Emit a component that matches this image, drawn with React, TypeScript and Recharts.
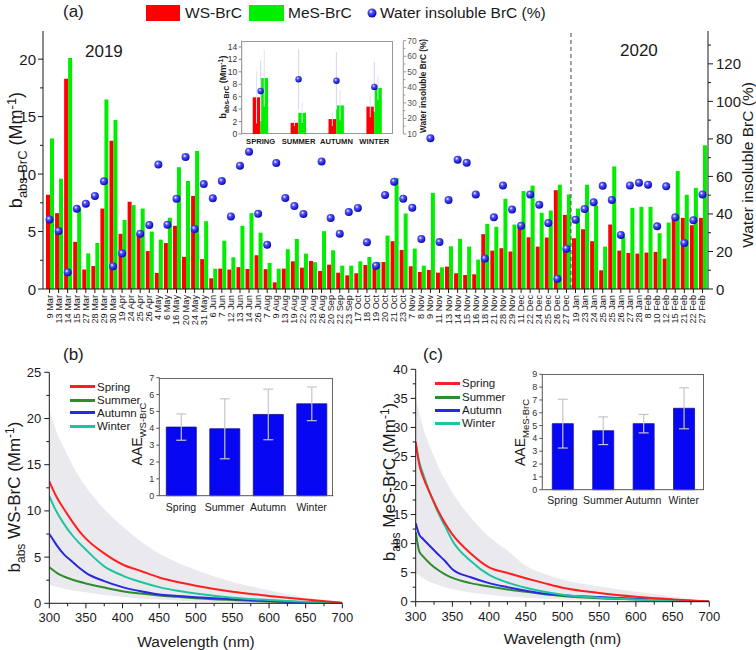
import React from 'react';
import { Area, Bar, ComposedChart, ErrorBar, Legend, Line, ReferenceLine, Scatter, XAxis, YAxis } from 'recharts';

const FONT = '"Liberation Sans", Arial, Helvetica, sans-serif';
const INK = '#1a1a1a';

// ---------- panel (a): daily samples ----------
const dates = ['9 Mar', '13 Mar', '14 Mar', '15 Mar', '27 Mar', '28 Mar', '29 Mar', '30 Mar', '19 Apr', '24 Apr', '25 Apr', '26 Apr',
  '4 May', '6 May', '16 May', '20 May', '24 May', '31 May', '6 Jun', '7 Jun', '12 Jun', '13 Jun', '14 Jun', '26 Jun',
  '7 Aug', '9 Aug', '13 Aug', '19 Aug', '22 Aug', '23 Aug', '26 Aug', '20 Sep', '22 Sep', '23 Sep',
  '17 Oct', '18 Oct', '19 Oct', '20 Oct', '21 Oct', '23 Oct', '7 Nov', '8 Nov', '9 Nov', '11 Nov', '13 Nov', '14 Nov',
  '15 Nov', '16 Nov', '18 Nov', '21 Nov', '28 Nov', '29 Nov', '11 Dec', '22 Dec', '24 Dec', '25 Dec', '26 Dec', '27 Dec',
  '19 Jan', '23 Jan', '24 Jan', '25 Jan', '25 Jan', '26 Jan', '27 Jan', '28 Jan', '8 Feb', '10 Feb', '12 Feb', '15 Feb',
  '21 Feb', '22 Feb', '27 Feb'];

const wsBrc = [8.2, 6.6, 18.3, 4.1, 1.7, 2.0, 7.0, 12.9, 4.8, 7.6, 4.9, 3.3, 1.4, 4.0, 5.5, 2.8, 8.1, 2.6,
  0.93, 1.77, 1.69, 1.9, 1.74, 2.94, 1.72, 0.58, 1.77, 2.41, 1.86, 2.44, 1.57, 2.12, 1.42, 1.19,
  1.37, 2.09, 2.2, 2.35, 4.16, 3.4, 1.98, 1.48, 1.66, 1.42, 1.95, 1.37, 1.22, 1.28, 4.77, 3.34, 3.55, 3.26,
  5.47, 4.5, 3.69, 4.48, 8.6, 6.45, 4.42, 5.2, 4.16, 1.63, 5.61, 3.34, 3.14, 3.08, 3.17, 3.23, 2.65, 6.13,
  6.19, 5.55, 6.19];

const mesBrc = [13.1, 9.6, 20.1, 7.0, 3.1, 4.0, 16.5, 14.7, 6.0, 7.3, 7.0, 5.0, 4.3, 6.2, 10.6, 9.4, 12.0, 5.9,
  1.77, 4.2, 2.76, 5.5, 6.6, 4.9, 2.27, 1.77, 3.46, 4.36, 3.08, 2.33, 5.03, 3.37, 2.03, 2.03,
  2.41, 2.79, 2.35, 4.65, 9.65, 6.57, 3.52, 2.03, 8.37, 1.89, 3.72, 4.36, 3.69, 2.56, 5.67, 5.41, 7.85, 5.61,
  8.52, 9.0, 6.63, 6.83, 9.07, 8.23, 7.0, 9.07, 7.27, 3.69, 10.67, 4.56, 7.06, 7.15, 7.15, 4.85, 5.78, 10.26,
  8.2, 8.8, 12.5];

const insolublePct = [37.1, 30.9, 8.9, 42.8, 45.5, 49.6, 57.4, 12.1, 19.0, null, 29.5, 34.1, 66.3, 34.3, 48.1, 70.3, 32.0, 55.9,
  48.3, 57.5, 38.7, 65.7, 73.2, 40.1, 23.6, 67.1, 48.5, 44.2, 40.0, null, 68.0, 37.8, 29.5, 41.0,
  43.2, 24.9, 12.4, 50.1, 57.2, 48.1, 43.3, 26.6, 80.3, 25.0, 47.4, 68.9, 67.3, 50.4, 16.2, 38.2, 55.2, 42.4,
  33.7, 50.4, 44.9, 35.2, 5.5, 21.5, 36.9, 42.6, 46.2, 55.0, 47.4, 28.8, 55.2, 56.6, 55.6, 33.4, 54.7, 38.2,
  24.5, 36.6, 50.4];

// inset of (a): seasonal means
const seasonCaps = ['SPRING', 'SUMMER', 'AUTUMN', 'WINTER'];
const seasonWs = [5.9, 1.8, 2.4, 4.4];
const seasonWsErr = [4.2, 0.5, 1.1, 1.7];
const seasonMes = [9.0, 3.4, 4.6, 7.4];
const seasonMesErr = [4.6, 1.6, 2.4, 1.9];
const seasonPct = [37.7, 45.2, 44.2, 40.3];
const seasonPctErr = [19.5, 19.6, 18.4, 16.0];

// ---------- panels (b), (c): spectra ----------
const wavelengths = [300, 305, 310, 320, 330, 340, 350, 375, 400, 425, 450, 475, 500, 550, 600, 650, 700];

const wsSpring = [13.2, 12.3, 11.5, 10.2, 9.0, 7.9, 7.0, 5.4, 4.2, 3.5, 2.8, 2.3, 1.9, 1.25, 0.8, 0.4, 0.05];
const wsSummer = [3.9, 3.6, 3.3, 2.9, 2.6, 2.35, 2.15, 1.7, 1.3, 1.05, 0.85, 0.7, 0.55, 0.35, 0.2, 0.1, 0.02];
const wsAutumn = [7.5, 6.9, 6.3, 5.3, 4.6, 3.9, 3.3, 2.4, 1.75, 1.3, 0.95, 0.8, 0.65, 0.45, 0.25, 0.12, 0.02];
const wsWinter = [11.6, 10.7, 9.9, 8.6, 7.5, 6.6, 5.8, 4.0, 3.0, 2.3, 1.75, 1.35, 1.05, 0.6, 0.35, 0.15, 0.02];
const wsBandHi = [21, 19.7, 18.5, 16.8, 15.2, 13.8, 12.6, 10.2, 8.3, 6.7, 5.4, 4.4, 3.6, 2.3, 1.4, 0.6, 0.05];
const wsBandLo = [2.0, 1.9, 1.8, 1.6, 1.4, 1.3, 1.2, 0.9, 0.7, 0.5, 0.4, 0.3, 0.2, 0.1, 0.05, 0.02, 0];

const mesSpring = [27.5, 23.5, 21.5, 18.5, 15.8, 13.5, 11.6, 8.3, 5.9, 4.95, 4.05, 3.2, 2.4, 1.5, 0.85, 0.4, 0.05];
const mesSummer = [12.0, 8.6, 7.8, 6.5, 5.5, 4.7, 4.1, 3.2, 2.6, 2.1, 1.7, 1.3, 1.0, 0.6, 0.4, 0.2, 0.02];
const mesAutumn = [13.5, 11.5, 10.8, 9.5, 8.2, 7.0, 5.6, 4.2, 3.2, 2.5, 1.9, 1.4, 1.1, 0.8, 0.5, 0.25, 0.02];
const mesWinter = [27.0, 24.0, 22.0, 18.5, 15.5, 13.0, 10.5, 7.0, 4.6, 3.3, 2.4, 1.7, 1.2, 0.7, 0.4, 0.2, 0.02];
const mesBandHi = [35, 32.5, 30, 26.5, 23.5, 21, 18.8, 14.5, 11.2, 8.8, 6.2, 4.8, 3.8, 2.6, 1.7, 0.9, 0.05];
const mesBandLo = [5.0, 4.5, 4.0, 3.4, 2.9, 2.5, 2.2, 1.6, 1.2, 0.9, 0.7, 0.5, 0.4, 0.2, 0.1, 0.05, 0];

const seasons = ['Spring', 'Summer', 'Autumn', 'Winter'];
const aaeWs = [4.07, 3.97, 4.82, 5.45];
const aaeWsErr = [0.78, 1.78, 1.5, 1.0];
const aaeMes = [5.15, 4.6, 5.15, 6.35];
const aaeMesErr = [1.9, 1.08, 0.72, 1.6];

const seasonColors = ['#ff1f1f', '#2e8b2e', '#2828e0', '#1ec3a0'];

// ticks
const leftTicksA = [0, 2.5, 5, 7.5, 10, 12.5, 15, 17.5, 20];
const rightTicksA = [0, 10, 20, 30, 40, 50, 60, 70, 80, 90, 100, 110, 120, 130];
const insetLeftTicks = [0, 2, 4, 6, 8, 10, 12, 14];
const insetRightTicks = [10, 15, 20, 25, 30, 35, 40, 45, 50, 55, 60, 65, 70];
const wlTicks = [300, 325, 350, 375, 400, 425, 450, 475, 500, 525, 550, 575, 600, 625, 650, 675, 700];
const ticksB = [0, 2.5, 5, 7.5, 10, 12.5, 15, 17.5, 20, 22.5, 25];
const ticksC = [0, 2.5, 5, 7.5, 10, 12.5, 15, 17.5, 20, 22.5, 25, 27.5, 30, 32.5, 35, 37.5, 40];

const rowsA = dates.map((d, i) => ({ idx: i, ws: wsBrc[i], mes: mesBrc[i], ins: insolublePct[i] }));
const rowsInset = seasonCaps.map((s, i) => ({
  season: s, ws: seasonWs[i], wsErr: seasonWsErr[i], mes: seasonMes[i], mesErr: seasonMesErr[i],
  pct: seasonPct[i], pctErr: seasonPctErr[i],
}));
const rowsB = wavelengths.map((w, i) => ({
  wl: w, spring: wsSpring[i], summer: wsSummer[i], autumn: wsAutumn[i], winter: wsWinter[i], band: [wsBandLo[i], wsBandHi[i]],
}));
const rowsC = wavelengths.map((w, i) => ({
  wl: w, spring: mesSpring[i], summer: mesSummer[i], autumn: mesAutumn[i], winter: mesWinter[i], band: [mesBandLo[i], mesBandHi[i]],
}));
const rowsAaeWs = seasons.map((s, i) => ({ season: s, aae: aaeWs[i], err: aaeWsErr[i] }));
const rowsAaeMes = seasons.map((s, i) => ({ season: s, aae: aaeMes[i], err: aaeMesErr[i] }));

const isMult = (v: number, m: number) => Math.abs(v / m - Math.round(v / m)) < 1e-6;

// generic tick: draws own tick line + label (axis given tickSize 0, tickMargin 0)
const makeTick = (o: {
  side: 'left' | 'right' | 'bottom' | 'top';
  every: number; len: number; minorLen: number; font: number; gap: number;
  color?: string; textColor?: string; weight?: number; noLabel?: boolean;
}) => (p: any) => {
  const { x, y, payload } = p;
  const v = payload.value;
  const major = isMult(v, o.every);
  const L = major ? o.len : o.minorLen;
  const c = o.color ?? INK;
  const tStyle = { fontSize: o.font, fontFamily: FONT, fill: o.textColor ?? INK, fontWeight: o.weight ?? 400 };
  const show = major && !o.noLabel;
  if (o.side === 'left') {
    return (
      <g>
        <line x1={x} x2={x - L} y1={y} y2={y} stroke={c} />
        {show && <text x={x - o.len - o.gap} y={y} textAnchor="end" dominantBaseline="central" style={tStyle}>{v}</text>}
      </g>
    );
  }
  if (o.side === 'right') {
    return (
      <g>
        <line x1={x} x2={x + L} y1={y} y2={y} stroke={c} />
        {show && <text x={x + o.len + o.gap} y={y} textAnchor="start" dominantBaseline="central" style={tStyle}>{v}</text>}
      </g>
    );
  }
  if (o.side === 'top') {
    return <line x1={x} x2={x} y1={y} y2={y + L} stroke={c} />;
  }
  return (
    <g>
      <line x1={x} x2={x} y1={y} y2={y + L} stroke={c} />
      {show && <text x={x} y={y + o.gap} textAnchor="middle" dominantBaseline="central" style={tStyle}>{v}</text>}
    </g>
  );
};

const DateTick = (p: any) => {
  const { x, y, payload } = p;
  const ty = y + 6;
  return (
    <g>
      <line x1={x} x2={x} y1={y} y2={y + 4} stroke={INK} />
      <text x={x} y={ty} transform={`rotate(-90 ${x} ${ty})`} textAnchor="end" dominantBaseline="central"
        style={{ fontSize: 9.2, fontFamily: FONT, fill: INK }}>{dates[payload.value]}</text>
    </g>
  );
};

const catLabel = (font: number, gap: number, weight = 400) => (p: any) => (
  <text x={p.x} y={p.y + gap} textAnchor="middle" dominantBaseline="central"
    style={{ fontSize: font, fontFamily: FONT, fill: INK, fontWeight: weight }}>{p.payload.value}</text>
);

// rotated title with optional sub/superscript parts
const VTitle = (p: any) => {
  const { tx, ty, size, sub, parts, weight } = p;
  return (
    <text x={tx} y={ty} transform={`rotate(-90 ${tx} ${ty})`} textAnchor="middle"
      style={{ fontSize: size, fontFamily: FONT, fill: INK, fontWeight: weight ?? 400 }}>
      {parts.map((t: any, i: number) => {
        const prev = i > 0 ? parts[i - 1].k : 'n';
        const base = (k: string) => (k === 'sub' ? size * 0.28 : k === 'sup' ? -size * 0.36 : 0);
        const dy = base(t.k) - base(prev);
        return (
          <tspan key={i} dy={dy} style={t.k === 'n' ? undefined : { fontSize: sub }}>{t.s}</tspan>
        );
      })}
    </text>
  );
};

const HTitle = (p: any) => (
  <text x={p.tx} y={p.ty} textAnchor="middle" dominantBaseline="central"
    style={{ fontSize: p.size, fontFamily: FONT, fill: INK }}>{p.text}</text>
);

const Sphere = (p: any) => {
  const { cx, cy } = p;
  if (!Number.isFinite(cx) || !Number.isFinite(cy)) return <g />;
  return <circle cx={cx} cy={cy} r={4} fill="url(#ballGrad)" />;
};
const SmallSphere = (p: any) => {
  const { cx, cy } = p;
  if (!Number.isFinite(cx) || !Number.isFinite(cy)) return <g />;
  return <circle cx={cx} cy={cy} r={3.2} fill="url(#ballGrad)" />;
};

const abs = (a: string, b: string) => [
  { k: 'n', s: 'b' }, { k: 'sub', s: a }, { k: 'n', s: b }, { k: 'sup', s: '-1' }, { k: 'n', s: ')' },
];

const LegendA = () => (
  <div style={{ position: 'relative', width: 756, height: 28, fontFamily: FONT, fontSize: 15.5, color: INK }}>
    <div style={{ position: 'absolute', left: 146, top: 5, width: 34, height: 15.5, background: '#ff0000' }} />
    <div style={{ position: 'absolute', left: 185, top: 4, lineHeight: '18px' }}>WS-BrC</div>
    <div style={{ position: 'absolute', left: 249, top: 5, width: 35, height: 15.5, background: '#00ee00' }} />
    <div style={{ position: 'absolute', left: 288, top: 4, lineHeight: '18px' }}>MeS-BrC</div>
    <svg style={{ position: 'absolute', left: 366, top: 7 }} width={12} height={12}>
      <circle cx={6} cy={6} r={4.5} fill="url(#ballGrad)" />
    </svg>
    <div style={{ position: 'absolute', left: 380, top: 4, lineHeight: '18px', whiteSpace: 'nowrap' }}>Water insoluble BrC (%)</div>
  </div>
);

const SeasonLegend = ({ rowsY, lineX, textX }: { rowsY: number[]; lineX: number; textX: number }) => (
  <div style={{ position: 'relative', width: 378, height: 310, fontFamily: FONT, fontSize: 11.5, color: INK }}>
    {seasons.map((s, i) => (
      <React.Fragment key={s}>
        <div style={{ position: 'absolute', left: lineX, top: rowsY[i] - 1.5, width: 25, height: 3, background: seasonColors[i] }} />
        <div style={{ position: 'absolute', left: textX, top: rowsY[i] - 7, lineHeight: '14px' }}>{s}</div>
      </React.Fragment>
    ))}
  </div>
);

const PanelA = () => (
  <ComposedChart width={756} height={345} data={rowsA} margin={{ top: 31, right: 0, left: 0, bottom: 0 }} barGap={0}>
    <XAxis xAxisId="b" dataKey="idx" type="category" interval={0} height={56} tickSize={0} tickMargin={0}
      tickLine={false} tick={DateTick} axisLine={{ stroke: INK }} padding={{ left: 2, right: 1 }} />
    <XAxis xAxisId="t" dataKey="idx" type="category" orientation="top" interval={0} height={0} tickSize={0} tickMargin={0}
      tickLine={false} tick={makeTick({ side: 'top', every: 1, len: 5, minorLen: 5, font: 10, gap: 0, noLabel: true })}
      axisLine={{ stroke: INK }} padding={{ left: 2, right: 1 }} />
    <YAxis yAxisId="l" width={43} domain={[0, 22.45]} ticks={leftTicksA} interval={0} tickSize={0} tickMargin={0}
      tickLine={false} axisLine={{ stroke: INK }}
      tick={makeTick({ side: 'left', every: 5, len: 5, minorLen: 3, font: 15, gap: 2 })}
      label={<VTitle tx={22} ty={150} size={18} sub={13} parts={abs('abs-BrC', ' (Mm')} />} />
    <YAxis yAxisId="r" orientation="right" width={48} domain={[0, 137.5]} ticks={rightTicksA} interval={0} tickSize={0}
      tickMargin={0} tickLine={false} axisLine={{ stroke: INK }}
      tick={makeTick({ side: 'right', every: 20, len: 5, minorLen: 3, font: 15, gap: 3 })}
      label={<VTitle tx={753} ty={165} size={15.5} sub={12} parts={[{ k: 'n', s: 'Water insoluble BrC (%)' }]} />} />
    <Legend layout="vertical" align="center" verticalAlign="middle" content={LegendA}
      wrapperStyle={{ left: 0, top: 0, width: 756, height: 28 }} />
    <ReferenceLine xAxisId="b" yAxisId="l" x={58} position="start" stroke="#444" strokeDasharray="4 3" />
    <Bar xAxisId="b" yAxisId="l" dataKey="ws" fill="#ff0000" barSize={4} isAnimationActive={false} />
    <Bar xAxisId="b" yAxisId="l" dataKey="mes" fill="#00ee00" barSize={4} isAnimationActive={false} />
    <Scatter xAxisId="b" yAxisId="r" dataKey="ins" shape={Sphere} isAnimationActive={false} />
  </ComposedChart>
);

const InsetA = () => (
  <ComposedChart width={240} height={125} data={rowsInset} margin={{ top: 10.7, right: 0, left: 0, bottom: 0 }} barGap={0}>
    <XAxis dataKey="season" type="category" interval={0} height={21} tickSize={0} tickMargin={0} tickLine={false}
      axisLine={false} tick={catLabel(7.6, 7, 700)} padding={{ left: 0, right: 10 }} />
    <YAxis yAxisId="l" width={41.7} domain={[0, 15]} ticks={insetLeftTicks} interval={0} tickSize={0} tickMargin={0}
      tickLine={false} axisLine={{ stroke: '#888' }}
      tick={makeTick({ side: 'left', every: 2, len: 3, minorLen: 2, font: 8.5, gap: 1.5, color: '#888', textColor: '#333' })}
      label={<VTitle tx={26} ty={57} size={9} sub={7} weight={700} parts={abs('abs-BrC', ' (Mm')} />} />
    <YAxis yAxisId="r" orientation="right" width={36.7} domain={[10, 70]} ticks={insetRightTicks} interval={0} tickSize={0}
      tickMargin={0} tickLine={false} axisLine={{ stroke: '#999' }}
      tick={makeTick({ side: 'right', every: 10, len: 3, minorLen: 2, font: 8.5, gap: 1, color: '#999', textColor: '#555' })}
      label={<VTitle tx={225.5} ty={56} size={8.3} sub={7} weight={700} parts={[{ k: 'n', s: 'Water insoluble BrC (%)' }]} />} />
    <Bar yAxisId="l" dataKey="ws" fill="#ff0000" barSize={7.7} isAnimationActive={false}>
      <ErrorBar dataKey="wsErr" direction="y" width={0} stroke="#e2e3f0" strokeWidth={1} />
    </Bar>
    <Bar yAxisId="l" dataKey="mes" fill="#00ee00" barSize={7.7} isAnimationActive={false}>
      <ErrorBar dataKey="mesErr" direction="y" width={0} stroke="#e2e3f0" strokeWidth={1} />
    </Bar>
    <Scatter yAxisId="r" dataKey="pct" shape={SmallSphere} isAnimationActive={false}>
      <ErrorBar dataKey="pctErr" direction="y" width={0} stroke="#d9dbee" strokeWidth={1.2} />
    </Scatter>
  </ComposedChart>
);

const SpectrumPanel = (p: {
  rows: any[]; yMax: number; yTicks: number[]; yWidth: number; margin: any; xHeight: number;
  title: any[]; titleX: number; titleY: number; xTitleX: number; xTitleY: number; labelGap: number;
  legendY: number[]; legendLineX: number; legendTextX: number;
}) => (
  <ComposedChart width={378} height={310} data={p.rows} margin={p.margin}>
    <XAxis xAxisId="x" dataKey="wl" type="number" domain={[300, 700]} ticks={wlTicks} interval={0} height={p.xHeight}
      tickSize={0} tickMargin={0} tickLine={false} axisLine={{ stroke: INK }} allowDataOverflow
      tick={makeTick({ side: 'bottom', every: 50, len: 5, minorLen: 3, font: 13, gap: p.labelGap })}
      label={<HTitle tx={p.xTitleX} ty={p.xTitleY} size={15.5} text="Wavelength (nm)" />} />
    <XAxis xAxisId="xt" dataKey="wl" type="number" orientation="top" domain={[300, 700]} height={0} tick={false}
      tickLine={false} axisLine={{ stroke: INK }} allowDataOverflow />
    <YAxis yAxisId="y" width={p.yWidth} domain={[0, p.yMax]} ticks={p.yTicks} interval={0} tickSize={0} tickMargin={0}
      tickLine={false} axisLine={{ stroke: INK }} allowDataOverflow
      tick={makeTick({ side: 'left', every: 5, len: 5, minorLen: 3, font: 13, gap: 3 })}
      label={<VTitle tx={p.titleX} ty={p.titleY} size={17} sub={12} parts={p.title} />} />
    <YAxis yAxisId="yr" orientation="right" width={0} domain={[0, p.yMax]} tick={false} tickLine={false}
      axisLine={{ stroke: INK }} />
    <Legend layout="vertical" align="center" verticalAlign="middle"
      content={() => <SeasonLegend rowsY={p.legendY} lineX={p.legendLineX} textX={p.legendTextX} />}
      wrapperStyle={{ left: 0, top: 0, width: 378, height: 310, pointerEvents: 'none' }} />
    <Area xAxisId="x" yAxisId="y" dataKey="band" type="monotone" stroke="none" fill="#d5d5de" fillOpacity={0.5}
      isAnimationActive={false} />
    <Line xAxisId="x" yAxisId="y" dataKey="summer" type="monotone" stroke={seasonColors[1]} strokeWidth={2} dot={false} isAnimationActive={false} />
    <Line xAxisId="x" yAxisId="y" dataKey="autumn" type="monotone" stroke={seasonColors[2]} strokeWidth={2} dot={false} isAnimationActive={false} />
    <Line xAxisId="x" yAxisId="y" dataKey="winter" type="monotone" stroke={seasonColors[3]} strokeWidth={2} dot={false} isAnimationActive={false} />
    <Line xAxisId="x" yAxisId="y" dataKey="spring" type="monotone" stroke={seasonColors[0]} strokeWidth={2} dot={false} isAnimationActive={false} />
  </ComposedChart>
);

const AaeInset = (p: {
  rows: any[]; yMax: number; yWidth: number; margin: any; xHeight: number; barSize: number; labelGap: number;
  sub: string; titleX: number; titleY: number;
}) => {
  const yt = Array.from({ length: p.yMax + 1 }, (_, i) => i);
  return (
    <ComposedChart width={230} height={160} data={p.rows} margin={p.margin}>
      <XAxis dataKey="season" type="category" interval={0} height={p.xHeight} tickSize={0} tickMargin={0} tickLine={false}
        axisLine={{ stroke: '#555' }} tick={catLabel(10.5, p.labelGap)} />
      <YAxis width={p.yWidth} domain={[0, p.yMax]} ticks={yt} interval={0} tickSize={0} tickMargin={0} tickLine={false}
        axisLine={{ stroke: '#555' }}
        tick={makeTick({ side: 'left', every: 1, len: 3, minorLen: 3, font: 9, gap: 2, color: '#555', textColor: '#333' })}
        label={<VTitle tx={p.titleX} ty={p.titleY} size={14} sub={9.5}
          parts={[{ k: 'n', s: 'AAE' }, { k: 'sub', s: p.sub }]} />} />
      <Bar dataKey="aae" fill="#0707f4" stroke="#101090" strokeWidth={0.8} barSize={p.barSize} isAnimationActive={false}>
        <ErrorBar dataKey="err" direction="y" width={5} stroke="#c6c6c6" strokeWidth={1.2} />
      </Bar>
    </ComposedChart>
  );
};

const txt = (left: number, top: number, size: number, s: string) => (
  <div style={{ position: 'absolute', left, top: top - size * 0.6, fontSize: size, lineHeight: `${size * 1.2}px`, fontFamily: FONT, color: INK }}>{s}</div>
);

export default function App() {
  return (
    <div style={{ position: 'absolute', left: 0, top: 0, width: 756, height: 650, background: '#fff', overflow: 'hidden' }}>
      <svg width={0} height={0} style={{ position: 'absolute' }}>
        <defs>
          <radialGradient id="ballGrad" cx="0.38" cy="0.35" r="0.68">
            <stop offset="0" stopColor="#ffffff" />
            <stop offset="0.3" stopColor="#5656ff" />
            <stop offset="1" stopColor="#0000b0" />
          </radialGradient>
        </defs>
      </svg>

      <div style={{ position: 'absolute', left: 0, top: 0 }}><PanelA /></div>
      <div style={{ position: 'absolute', left: 241.7, top: 40.7, width: 151.6, height: 93.3, borderTop: '1px solid #999', borderRight: '1px solid #999', borderBottom: '1px solid #999', boxSizing: 'border-box' }} />
      <div style={{ position: 'absolute', left: 200, top: 30 }}><InsetA /></div>

      <div style={{ position: 'absolute', left: 0, top: 340 }}>
        <SpectrumPanel rows={rowsB} yMax={25} yTicks={ticksB} yWidth={49.3} xHeight={46.7}
          margin={{ top: 32.3, right: 35.7, left: 0, bottom: 0 }}
          title={abs('abs', ' WS-BrC (Mm')} titleX={20} titleY={157} xTitleX={196} xTitleY={301.7} labelGap={14.4}
          legendY={[46.7, 60, 72.7, 86]} legendLineX={70} legendTextX={97} />
      </div>
      <div style={{ position: 'absolute', left: 159.3, top: 377.7, width: 174, height: 118, borderTop: '1px solid #666', borderRight: '1px solid #666', boxSizing: 'border-box' }} />
      <div style={{ position: 'absolute', left: 120, top: 360 }}>
        <AaeInset rows={rowsAaeWs} yMax={7} yWidth={39.3} xHeight={24.3} barSize={30} labelGap={11}
          margin={{ top: 17.7, right: 16.7, left: 0, bottom: 0 }} sub="WS-BrC" titleX={22} titleY={74} />
      </div>

      <div style={{ position: 'absolute', left: 378, top: 340 }}>
        <SpectrumPanel rows={rowsC} yMax={40} yTicks={ticksC} yWidth={37.7} xHeight={48.3}
          margin={{ top: 29.3, right: 46.7, left: 0, bottom: 0 }}
          title={abs('abs', ' MeS-BrC (Mm')} titleX={17} titleY={142} xTitleX={184.5} xTitleY={298.3} labelGap={15}
          legendY={[43.3, 57.3, 70, 83.3]} legendLineX={57} legendTextX={84} />
      </div>
      <div style={{ position: 'absolute', left: 542.3, top: 374.3, width: 161.7, height: 115.4, borderTop: '1px solid #666', borderRight: '1px solid #666', boxSizing: 'border-box' }} />
      <div style={{ position: 'absolute', left: 490, top: 355 }}>
        <AaeInset rows={rowsAaeMes} yMax={9} yWidth={52.3} xHeight={25.3} barSize={21} labelGap={10.3}
          margin={{ top: 19.3, right: 16, left: 0, bottom: 0 }} sub="MeS-BrC" titleX={35} titleY={77.5} />
      </div>

      {txt(63, 12.5, 17, '(a)')}
      {txt(85, 52, 17, '2019')}
      {txt(620, 51, 17, '2020')}
      {txt(63, 355, 17, '(b)')}
      {txt(423, 355, 17, '(c)')}
    </div>
  );
}
